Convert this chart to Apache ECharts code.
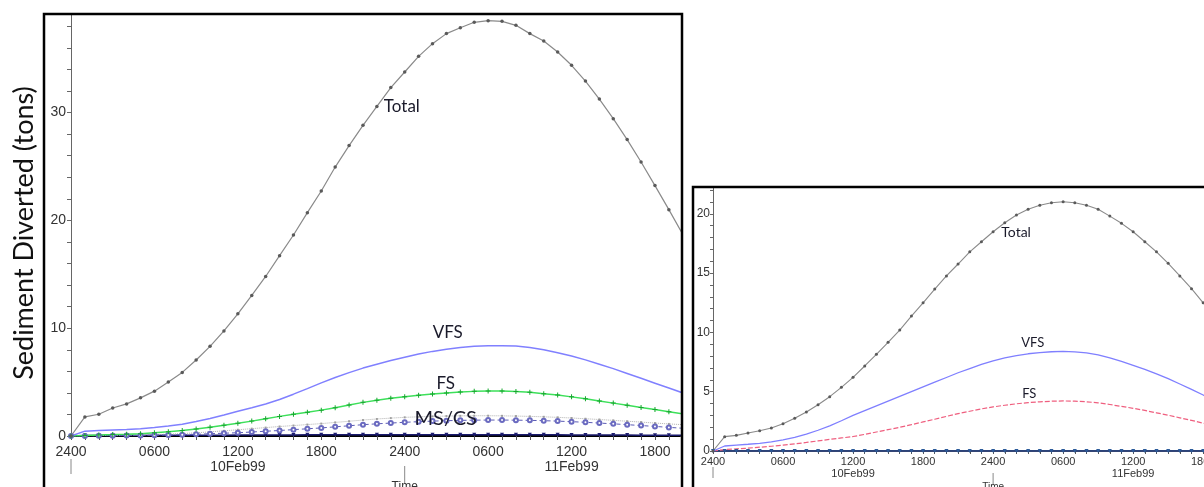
<!DOCTYPE html>
<html>
<head>
<meta charset="utf-8">
<script src="https://cdn.jsdelivr.net/npm/echarts@6/dist/echarts.min.js"></script>
<style>
html,body{margin:0;padding:0;background:#fff;}
#c{width:1204px;height:487px;}
</style>
</head>
<body>
<div id="c"></div>
<script>
// ---------- data (hours since 2400 on 09Feb99) ----------
const hoursA = [0,1,2,3,4,5,6,7,8,9,10,11,12,13,14,15,16,17,18,19,20,21,22,23,24,25,26,27,28,29,30,31,32,33,34,35,36,37,38,39,40,41,42,43,44];
const hoursB = [0,1,2,3,4,5,6,7,8,9,10,11,12,13,14,15,16,17,18,19,20,21,22,23,24,25,26,27,28,29,30,31,32,33,34,35,36,37,38,39,40,41,42,43];

// Left chart
const totalA = [0,1.77,2.02,2.6,2.98,3.54,4.16,5.0,5.9,7.05,8.32,9.75,11.33,13.04,14.8,16.73,18.65,20.72,22.73,24.95,26.94,28.82,30.58,32.32,33.77,35.22,36.4,37.33,37.88,38.38,38.53,38.47,38.1,37.33,36.64,35.62,34.39,32.93,31.26,29.44,27.5,25.42,23.23,21.0,18.7];
const vfsA = [0,0.45,0.5,0.55,0.6,0.68,0.78,0.92,1.1,1.35,1.62,1.95,2.3,2.62,2.97,3.38,3.88,4.4,4.93,5.43,5.88,6.3,6.66,7.0,7.3,7.6,7.85,8.05,8.2,8.33,8.38,8.38,8.35,8.2,8.0,7.72,7.42,7.06,6.66,6.25,5.8,5.35,4.9,4.45,4.0];
const fsA = [0,0.05,0.1,0.13,0.17,0.22,0.3,0.4,0.52,0.66,0.82,1.0,1.18,1.38,1.6,1.82,2.02,2.2,2.4,2.62,2.88,3.12,3.32,3.5,3.65,3.78,3.9,4.0,4.08,4.14,4.17,4.17,4.13,4.05,3.93,3.8,3.63,3.45,3.25,3.05,2.85,2.65,2.45,2.25,2.05];
const msA = [0,0.02,0.04,0.06,0.08,0.1,0.13,0.17,0.22,0.3,0.38,0.48,0.58,0.68,0.78,0.88,0.97,1.06,1.15,1.26,1.37,1.48,1.58,1.66,1.73,1.78,1.82,1.85,1.87,1.88,1.88,1.87,1.85,1.82,1.78,1.73,1.67,1.6,1.53,1.45,1.37,1.29,1.2,1.12,1.05];
const csA = [0,0.01,0.02,0.03,0.04,0.05,0.07,0.09,0.12,0.16,0.21,0.26,0.3,0.37,0.44,0.51,0.59,0.67,0.75,0.85,0.95,1.05,1.13,1.2,1.27,1.33,1.38,1.42,1.45,1.47,1.48,1.48,1.47,1.45,1.42,1.38,1.33,1.27,1.2,1.13,1.05,0.97,0.89,0.8,0.72];
const siltA = [0,0.04,0.04,0.05,0.05,0.05,0.06,0.06,0.07,0.07,0.08,0.08,0.09,0.09,0.1,0.1,0.1,0.11,0.11,0.11,0.12,0.12,0.12,0.12,0.12,0.12,0.12,0.12,0.12,0.12,0.12,0.12,0.12,0.11,0.11,0.11,0.1,0.1,0.1,0.09,0.09,0.08,0.08,0.08,0.07];

// Right chart
const totalB = [0,1.21,1.32,1.52,1.71,1.94,2.3,2.76,3.29,3.9,4.58,5.37,6.21,7.17,8.15,9.17,10.2,11.38,12.5,13.66,14.76,15.77,16.8,17.65,18.49,19.25,19.9,20.38,20.72,20.94,21.02,20.94,20.72,20.38,19.81,19.2,18.49,17.65,16.8,15.83,14.76,13.69,12.5,11.25];
const vfsB = [0,0.42,0.5,0.57,0.65,0.77,0.93,1.15,1.43,1.75,2.12,2.55,3.0,3.4,3.8,4.2,4.6,5.0,5.4,5.8,6.2,6.6,6.95,7.3,7.6,7.85,8.05,8.2,8.3,8.37,8.4,8.36,8.27,8.1,7.85,7.55,7.22,6.88,6.5,6.1,5.65,5.2,4.72,4.2];
const fsB = [0,0.12,0.18,0.24,0.32,0.4,0.5,0.6,0.72,0.85,0.98,1.1,1.22,1.4,1.6,1.8,2.0,2.22,2.45,2.68,2.92,3.15,3.35,3.55,3.72,3.86,3.98,4.08,4.15,4.2,4.22,4.2,4.15,4.06,3.92,3.76,3.6,3.42,3.22,3.02,2.8,2.58,2.35,2.12];
const siltB = [0,0,0,0,0,0,0,0,0,0,0,0,0,0,0,0,0,0,0,0,0,0,0,0,0,0,0,0,0,0,0,0,0,0,0,0,0,0,0,0,0,0,0,0];

const dayLabels = {12: '10Feb99', 36: '11Feb99'};
const yAxisTitle = 'Sediment Diverted (tons)';
const timeTitle = 'Time';
// curve labels: [text, hour, value]
const labelsA = [['Total',22.5,30.6],['VFS',27.1,9.62],['FS',26.95,4.89],['MS/CS',26.95,1.64]];
const labelsB = [['Total',24.7,18.4],['VFS',27.4,9.1],['FS',27.1,4.8]];

// ---------- chart ----------
const pair = (hs, vs) => hs.map((h, i) => [h, vs[i]]);
const plus = 'path://M2,0H3V2H5V3H3V5H2V3H0V2H2Z';
const fontA = 'Liberation Sans, Arial, sans-serif';

function xLabel(v){
  if (Math.abs(v - Math.round(v)) > 1e-6) return '';
  const h = Math.round(v);
  if (h % 6 !== 0) return '';
  const m = h % 24;
  let s = m === 0 ? '2400' : String(m).padStart(2, '0') + '00';
  if (dayLabels[h]) s += '\n' + dayLabels[h];
  return s;
}
function yLabel(step){
  return function(v){ return (Math.abs(v % step) < 1e-6) ? String(v) : ''; };
}

const chart = echarts.init(document.getElementById('c'), null, {renderer: 'canvas'});

const option = {
  backgroundColor: '#fff',
  animation: false,
  grid: [
    {left: 71, top: 14, width: 609, height: 422, outerBoundsMode: 'none', containLabel: false},
    {left: 713, top: 188, width: 491, height: 263, outerBoundsMode: 'none', containLabel: false}
  ],
  xAxis: [
    {gridIndex: 0, type: 'value', min: 0, max: 43.8, interval: 1,
     axisLine: {show: true, lineStyle: {color: '#000', width: 2}},
     axisTick: {show: true, length: 4, lineStyle: {color: '#555'}},
     splitLine: {show: false},
     axisLabel: {formatter: xLabel, color: '#333', fontSize: 14, fontFamily: fontA, lineHeight: 15, margin: 9, showMaxLabel: false}},
    {gridIndex: 1, type: 'value', min: 0, max: 42.07, interval: 1,
     axisLine: {show: true, lineStyle: {color: '#1a1a3a', width: 1.5}},
     axisTick: {show: true, length: 3, lineStyle: {color: '#555'}},
     splitLine: {show: false},
     axisLabel: {formatter: xLabel, color: '#333', fontSize: 11, fontFamily: fontA, lineHeight: 12, margin: 5, showMaxLabel: false}}
  ],
  yAxis: [
    {gridIndex: 0, type: 'value', min: 0, max: 39.15, interval: 2,
     axisLine: {show: true, lineStyle: {color: '#666', width: 1}},
     axisTick: {show: true, length: 4, lineStyle: {color: '#666'}},
     splitLine: {show: false},
     axisLabel: {formatter: yLabel(10), color: '#333', fontSize: 14, fontFamily: fontA, margin: 5, showMaxLabel: false}},
    {gridIndex: 1, type: 'value', min: 0, max: 22.18, interval: 1,
     axisLine: {show: true, lineStyle: {color: '#666', width: 1}},
     axisTick: {show: true, length: 3, lineStyle: {color: '#666'}},
     splitLine: {show: false},
     axisLabel: {formatter: yLabel(5), color: '#333', fontSize: 12, fontFamily: fontA, margin: 3, showMaxLabel: false}}
  ],
  series: [
    {name: 'Silt', type: 'line', xAxisIndex: 0, yAxisIndex: 0, data: pair(hoursA, siltA),
     lineStyle: {color: '#1b1b6e', width: 1.5}, symbol: 'triangle', symbolRotate: 180, symbolSize: 4,
     itemStyle: {color: '#1b1b6e'}},
    {name: 'MS', type: 'line', xAxisIndex: 0, yAxisIndex: 0, data: pair(hoursA, msA),
     lineStyle: {color: '#b0b0b0', width: 1, type: 'dotted'}, symbol: 'rect', symbolSize: 2,
     itemStyle: {color: '#a0a0a0'}},
    {name: 'CS', type: 'line', xAxisIndex: 0, yAxisIndex: 0, data: pair(hoursA, csA),
     lineStyle: {color: '#5b5bb5', width: 1, type: [4, 3]}, symbol: 'emptyCircle', symbolSize: 4,
     itemStyle: {color: '#6a6ac0', borderWidth: 1}},
    {name: 'FS', type: 'line', xAxisIndex: 0, yAxisIndex: 0, data: pair(hoursA, fsA),
     lineStyle: {color: '#3de05a', width: 1.5}, symbol: plus, symbolSize: 5,
     itemStyle: {color: '#16a82e'}},
    {name: 'VFS', type: 'line', xAxisIndex: 0, yAxisIndex: 0, data: pair(hoursA, vfsA),
     lineStyle: {color: '#8080ff', width: 1.5}, symbol: 'none'},
    {name: 'Total', type: 'line', xAxisIndex: 0, yAxisIndex: 0, data: pair(hoursA, totalA),
     lineStyle: {color: '#8a8a8a', width: 1.2}, symbol: 'circle', symbolSize: 3.5,
     itemStyle: {color: '#5a5a5a'}},

    {name: 'Silt B', type: 'line', xAxisIndex: 1, yAxisIndex: 1, data: pair(hoursB, siltB),
     lineStyle: {color: '#1f3f80', width: 1.5}, symbol: 'triangle', symbolRotate: 180, symbolSize: 4,
     itemStyle: {color: '#2a5a9a'}},
    {name: 'FS B', type: 'line', xAxisIndex: 1, yAxisIndex: 1, data: pair(hoursB, fsB),
     lineStyle: {color: '#ef5f7f', width: 1.2, type: [5, 2]}, symbol: 'none'},
    {name: 'VFS B', type: 'line', xAxisIndex: 1, yAxisIndex: 1, data: pair(hoursB, vfsB),
     lineStyle: {color: '#7f7fff', width: 1.3}, symbol: 'none'},
    {name: 'Total B', type: 'line', xAxisIndex: 1, yAxisIndex: 1, data: pair(hoursB, totalB),
     lineStyle: {color: '#8a8a8a', width: 1.1}, symbol: 'circle', symbolSize: 3,
     itemStyle: {color: '#5a5a5a'}}
  ]
};
chart.setOption(option);

// ---------- decorations and curve labels ----------
const g = [];
// frames
g.push({type: 'rect', shape: {x: 44, y: 14, width: 638, height: 500}, style: {fill: 'none', stroke: '#000', lineWidth: 2.5}, z: 100});
g.push({type: 'rect', shape: {x: 693, y: 187, width: 560, height: 400}, style: {fill: 'none', stroke: '#000', lineWidth: 2.5}, z: 100});
// y axis title (left chart)
g.push({type: 'text', x: 24, y: 233, rotation: Math.PI / 2,
  style: {text: yAxisTitle, fontSize: 27, fontFamily: 'Lato, "Open Sans", sans-serif', fill: '#111', align: 'center', verticalAlign: 'middle'}});
// day separators and Time titles
function daySep(gi, h, y0, y1){
  const p = chart.convertToPixel({gridIndex: gi}, [h, 0]);
  g.push({type: 'line', shape: {x1: p[0], y1: y0, x2: p[0], y2: y1}, style: {stroke: '#888', lineWidth: 1}});
}
daySep(0, 0, 459, 474);
daySep(0, 24, 466, 484);
daySep(1, 0, 467, 478);
daySep(1, 24, 473, 485);
(function(){
  const p = chart.convertToPixel({gridIndex: 0}, [24, 0]);
  g.push({type: 'text', x: p[0], y: 487, style: {text: timeTitle, fontSize: 12, fontFamily: fontA, fill: '#333', align: 'center', verticalAlign: 'middle'}});
  const q = chart.convertToPixel({gridIndex: 1}, [24, 0]);
  g.push({type: 'text', x: q[0], y: 487, style: {text: timeTitle, fontSize: 10, fontFamily: fontA, fill: '#333', align: 'center', verticalAlign: 'middle'}});
})();
function addLabels(gi, list, sizes){
  list.forEach(function(l, i){
    const p = chart.convertToPixel({gridIndex: gi}, [l[1], l[2]]);
    const left = l[0] === 'Total';
    g.push({type: 'text', x: p[0], y: p[1], z: 50,
      style: {text: l[0], fontSize: sizes[i], fontFamily: 'Lato, "Open Sans", sans-serif', fill: '#1a1a2a',
        align: left ? 'left' : 'center', verticalAlign: 'middle'}});
  });
}
addLabels(0, labelsA, [17, 17, 17, 20]);
addLabels(1, labelsB, [14, 13, 13]);
chart.setOption({graphic: g});
</script>
</body>
</html>
